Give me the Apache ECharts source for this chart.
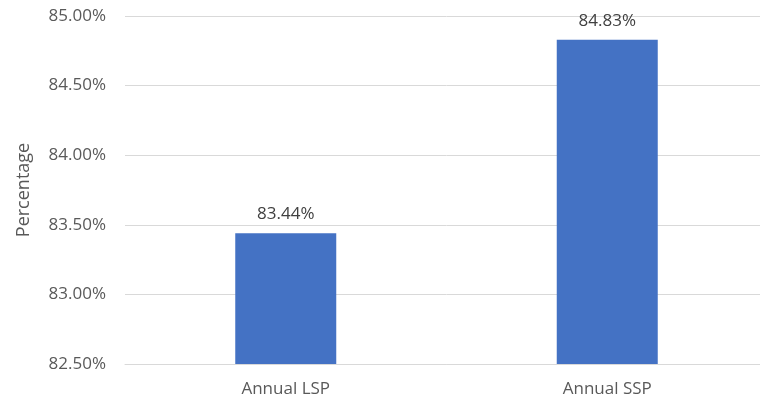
<!DOCTYPE html>
<html><head><meta charset="utf-8">
<script src="https://cdn.jsdelivr.net/npm/echarts@6/dist/echarts.min.js"></script>
<style>html,body{margin:0;padding:0;background:#fff;overflow:hidden}#c{width:768px;height:401px}</style>
</head><body><div id="c"></div>
<script>
const categories = ["Annual LSP", "Annual SSP"];
const values = [83.44, 84.83];
const yMin = 82.5, yMax = 85.0, yStep = 0.5;
const yAxisName = "Percentage";

const chart = echarts.init(document.getElementById('c'));
chart.setOption({
  animation: false,
  grid: { left: 125, top: 16, right: 0, bottom: 37, containLabel: false },
  xAxis: {
    type: 'category', data: categories,
    axisLine: { show: true, lineStyle: { color: '#d9d9d9' } },
    axisTick: { show: false },
    axisLabel: { color: '#595959', fontSize: 17, fontFamily: 'Open Sans', margin: 17 }
  },
  yAxis: {
    type: 'value', min: yMin, max: yMax, interval: yStep,
    name: yAxisName, nameLocation: 'middle', nameGap: 92, nameRotate: 90,
    nameTextStyle: { color: '#595959', fontSize: 18, fontFamily: 'Open Sans' },
    axisLine: { show: false }, axisTick: { show: false },
    splitLine: { lineStyle: { color: '#d9d9d9' } },
    axisLabel: { color: '#595959', fontSize: 17, fontFamily: 'Open Sans', margin: 19,
      formatter: v => v.toFixed(2) + '%' }
  },
  series: [{
    type: 'bar', data: values, barWidth: 101,
    itemStyle: { color: '#4472c4' },
    label: { show: true, position: 'top', distance: 10, color: '#404040', fontSize: 17, fontFamily: 'Open Sans',
      formatter: p => p.value.toFixed(2) + '%' }
  }]
});
</script></body></html>
